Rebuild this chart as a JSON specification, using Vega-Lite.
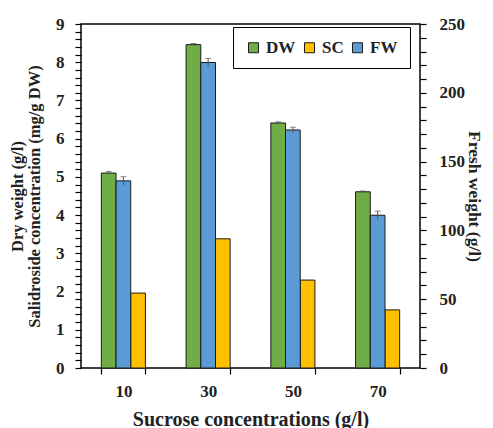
{
  "$schema": "https://vega.github.io/schema/vega-lite/v6.json",
  "width": 339,
  "height": 344,
  "padding": {"left": 9, "top": 15, "right": 5, "bottom": 5},
  "background": "white",
  "config": {
    "font": "Liberation Serif",
    "view": {"stroke": "black", "strokeWidth": 1.5},
    "axis": {"labelFont": "Liberation Serif", "labelFontWeight": "bold", "labelFontSize": 17, "labelColor": "#222", "titleFont": "Liberation Serif", "titleFontWeight": "bold", "titleColor": "#222", "domain": false, "ticks": true, "tickColor": "black", "tickWidth": 1.2, "grid": false, "labelOverlap": false}
  },
  "data": {"values": [
    {"conc": "10", "series": "DW", "value": 5.1, "lo": 5.06, "hi": 5.14},
    {"conc": "10", "series": "FW", "value": 136, "lo": 133, "hi": 139},
    {"conc": "10", "series": "SC", "value": 1.96, "lo": 1.96, "hi": 1.96},
    {"conc": "30", "series": "DW", "value": 8.46, "lo": 8.43, "hi": 8.49},
    {"conc": "30", "series": "FW", "value": 222, "lo": 219, "hi": 225},
    {"conc": "30", "series": "SC", "value": 3.38, "lo": 3.38, "hi": 3.38},
    {"conc": "50", "series": "DW", "value": 6.41, "lo": 6.38, "hi": 6.44},
    {"conc": "50", "series": "FW", "value": 173, "lo": 171, "hi": 175},
    {"conc": "50", "series": "SC", "value": 2.3, "lo": 2.3, "hi": 2.3},
    {"conc": "70", "series": "DW", "value": 4.61, "lo": 4.59, "hi": 4.63},
    {"conc": "70", "series": "FW", "value": 111, "lo": 108, "hi": 114},
    {"conc": "70", "series": "SC", "value": 1.52, "lo": 1.52, "hi": 1.52}
  ]},
  "encoding": {
    "x": {"field": "conc", "type": "ordinal", "scale": {"paddingInner": 0.48, "paddingOuter": 0.24},
      "axis": {"title": "Sucrose concentrations  (g/l)", "titleFontSize": 20, "labelAngle": 0, "tickBand": "extent", "tickSize": 6, "labelPadding": 9, "titlePadding": 10, "labelOverlap": false}},
    "xOffset": {"field": "series", "type": "nominal", "scale": {"domain": ["DW", "FW", "SC"], "paddingInner": 0, "paddingOuter": 0}}
  },
  "layer": [
    {
      "transform": [{"filter": "datum.series !== 'FW'"}],
      "layer": [
        {
          "mark": {"type": "bar", "stroke": "#1a1a1a", "strokeWidth": 1},
          "encoding": {
            "y": {"field": "value", "type": "quantitative", "scale": {"domain": [0, 9], "nice": false},
              "axis": {"orient": "left", "title": ["Dry weight (g/l)", "Salidroside concentration (mg/g DW)"], "titleFontSize": 16.5, "titleLineHeight": 17,
                "tickCount": 45,
                "labelExpr": "abs(datum.value - round(datum.value)) < 0.01 ? format(datum.value, 'd') : ''",
                "labelOverlap": false, "labelFlush": false,
                "tickSize": 6, "labelPadding": 11, "titlePadding": 13}},
            "color": {"field": "series", "type": "nominal",
              "scale": {"domain": ["DW", "SC", "FW"], "range": ["#70ad47", "#ffc000", "#5b9bd5"]},
              "legend": {"title": null, "orient": "none", "legendX": 152, "legendY": 3, "direction": "horizontal", "symbolType": "square", "symbolSize": 100, "symbolStrokeColor": "#333", "symbolStrokeWidth": 1, "labelFont": "Liberation Serif", "labelFontWeight": "bold", "labelFontSize": 17, "labelColor": "#222", "strokeColor": "black", "padding": 12, "columnPadding": 5, "fillColor": "white"}}
          }
        },
        {
          "transform": [{"filter": "datum.series === 'DW'"}],
          "mark": {"type": "rule", "color": "#555", "strokeWidth": 1},
          "encoding": {"y": {"field": "lo", "type": "quantitative"}, "y2": {"field": "hi"}}
        },
        {
          "transform": [{"filter": "datum.series === 'DW'"}],
          "mark": {"type": "tick", "color": "#555", "thickness": 1, "size": 6},
          "encoding": {"y": {"field": "hi", "type": "quantitative"}}
        }
      ]
    },
    {
      "transform": [{"filter": "datum.series === 'FW'"}],
      "layer": [
        {
          "mark": {"type": "bar", "stroke": "#1a1a1a", "strokeWidth": 1},
          "encoding": {
            "y": {"field": "value", "type": "quantitative", "scale": {"domain": [0, 250], "nice": false},
              "axis": {"orient": "right", "title": "Fresh weight (g/l)", "titleFontSize": 17.5,
                "tickCount": 25,
                "labelExpr": "datum.value % 50 === 0 ? datum.label : ''",
                "labelOverlap": false, "labelFlush": false,
                "tickSize": 6, "labelPadding": 13, "titlePadding": 0}},
            "color": {"field": "series", "type": "nominal"}
          }
        },
        {
          "mark": {"type": "rule", "color": "#555", "strokeWidth": 1},
          "encoding": {"y": {"field": "lo", "type": "quantitative"}, "y2": {"field": "hi"}}
        },
        {
          "mark": {"type": "tick", "color": "#555", "thickness": 1, "size": 6},
          "encoding": {"y": {"field": "hi", "type": "quantitative"}}
        }
      ]
    }
  ],
  "resolve": {"scale": {"y": "independent"}}
}
